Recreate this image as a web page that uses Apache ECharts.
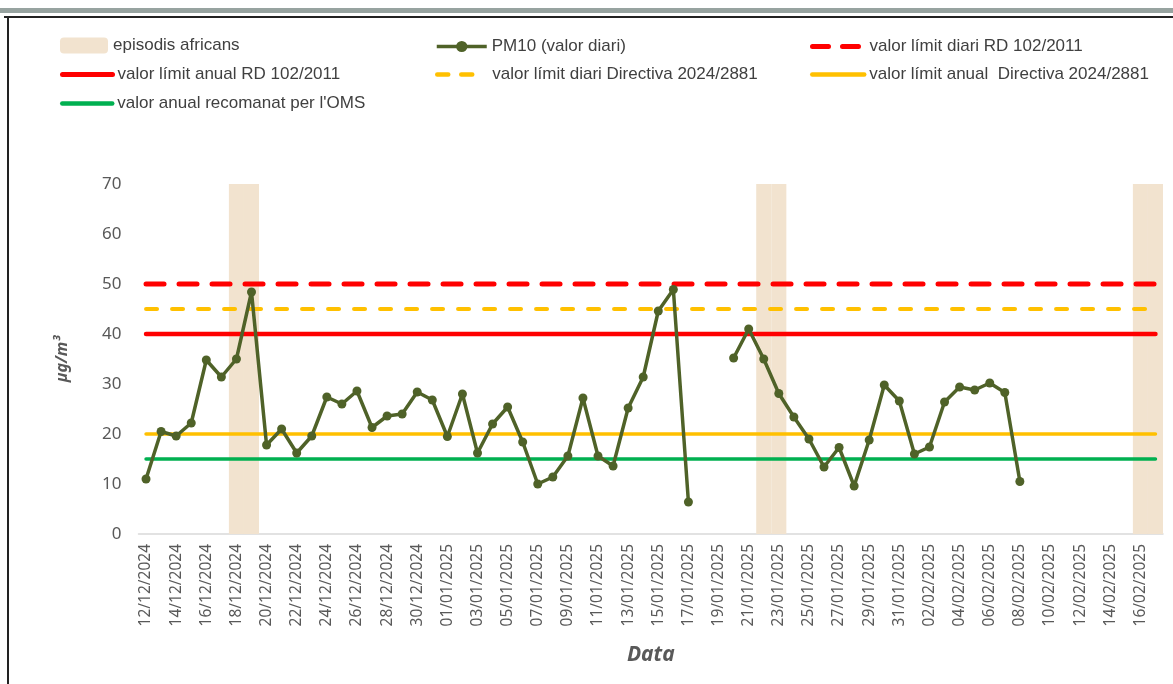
<!DOCTYPE html>
<html lang="ca">
<head>
    <meta charset="UTF-8">
    <title>PM10 - valor diari</title>
    <script src="https://cdn.jsdelivr.net/npm/echarts@6/dist/echarts.min.js"></script>
    <style>
        html, body { margin: 0; padding: 0; background: #fff; }
        #chart { width: 1173px; height: 684px; }
    </style>
</head>
<body>
    <div id="chart"></div>

    <script>
        // dies (eix de categories)
        const dates = [
            '12/12/2024', '13/12/2024', '14/12/2024', '15/12/2024', '16/12/2024', '17/12/2024', '18/12/2024',
            '19/12/2024', '20/12/2024', '21/12/2024', '22/12/2024', '23/12/2024', '24/12/2024', '25/12/2024',
            '26/12/2024', '27/12/2024', '28/12/2024', '29/12/2024', '30/12/2024', '31/12/2024',
            '01/01/2025', '02/01/2025', '03/01/2025', '04/01/2025', '05/01/2025', '06/01/2025', '07/01/2025',
            '08/01/2025', '09/01/2025', '10/01/2025', '11/01/2025', '12/01/2025', '13/01/2025', '14/01/2025',
            '15/01/2025', '16/01/2025', '17/01/2025', '18/01/2025', '19/01/2025', '20/01/2025', '21/01/2025',
            '22/01/2025', '23/01/2025', '24/01/2025', '25/01/2025', '26/01/2025', '27/01/2025', '28/01/2025',
            '29/01/2025', '30/01/2025', '31/01/2025',
            '01/02/2025', '02/02/2025', '03/02/2025', '04/02/2025', '05/02/2025', '06/02/2025', '07/02/2025',
            '08/02/2025', '09/02/2025', '10/02/2025', '11/02/2025', '12/02/2025', '13/02/2025', '14/02/2025',
            '15/02/2025', '16/02/2025', '17/02/2025'
        ];

        // PM10 valor diari (µg/m³), null = sense dada
        const pm10 = [
            11, 20.5, 19.6, 22.2, 34.8, 31.4, 35, 48.4, 17.8, 21, 16.2, 19.6, 27.4, 26,
            28.6, 21.3, 23.6, 24, 28.4, 26.8,
            19.5, 28, 16.2, 22, 25.4, 18.4, 10, 11.4, 15.6, 27.2, 15.6, 13.6, 25.2, 31.4,
            44.6, 48.9, 6.4, null, null, 35.2, 41, 35, 28.1, 23.4, 19, 13.4, 17.3, 9.6,
            18.8, 29.8, 26.6,
            16, 17.4, 26.4, 29.4, 28.8, 30.2, 28.3, 10.5, null, null, null, null, null, null,
            null, null, null
        ];

        // dies amb episodi africà
        const africanDays = ['18/12/2024', '19/12/2024', '22/01/2025', '23/01/2025', '16/02/2025', '17/02/2025'];

        // valors límit
        const limitDiariRD = 50;
        const limitAnualRD = 40;
        const limitDiariDir = 45;
        const limitAnualDir = 20;
        const valorOMS = 15;

        const yMax = 70;

        const chart = echarts.init(document.getElementById('chart'), null, { renderer: 'canvas' });

        const legendFont = "'Liberation Sans Narrow', 'Liberation Sans', sans-serif";
        const tickFont = "'Noto Sans', 'Open Sans', sans-serif";

        const RED = '#FF0000';
        const YELLOW = '#FFC000';
        const GREEN = '#00B050';
        const OLIVE = '#4F6228';

        // una llegenda per element, col·locada a mà com a l'original
        function legendAt(name, left, top, extra) {
            return Object.assign({
                data: [name],
                left: left,
                top: top,
                padding: 0,
                itemWidth: 50,
                itemHeight: 14,
                selectedMode: false,
                textStyle: { fontFamily: legendFont, fontSize: 17, color: '#404040' }
            }, extra || {});
        }

        // llegenda de només línia (sense marcador)
        function lineOnly(color, width, type) {
            return {
                itemStyle: { opacity: 0 },
                lineStyle: { color: color, width: width, type: type || 'solid', cap: 'round' }
            };
        }

        const flat = v => dates.map(() => v);

        const option = {
            animation: false,
            backgroundColor: '#fff',
            graphic: [
                { type: 'rect', shape: { x: 0, y: 8, width: 1173, height: 5 }, style: { fill: '#97A3A0' } },
                { type: 'rect', shape: { x: 4, y: 16, width: 1169, height: 2 }, style: { fill: '#222' } },
                { type: 'rect', shape: { x: 7, y: 16, width: 2, height: 668 }, style: { fill: '#222' } }
            ],
            legend: [
                legendAt('episodis africans', 60, 37, { itemWidth: 48, itemHeight: 16 }),
                legendAt('PM10 (valor diari)', 435, 38,
                    { lineStyle: { color: OLIVE, width: 3.5 }, itemStyle: { color: OLIVE } }),
                legendAt('valor límit diari RD 102/2011', 810, 38,
                    Object.assign({ itemWidth: 52 }, lineOnly(RED, 5, [16, 14]))),
                legendAt('valor límit anual RD 102/2011', 60, 66, lineOnly(RED, 5)),
                legendAt('valor límit diari Directiva 2024/2881', 435, 66,
                    Object.assign({
                        itemWidth: 36,
                        textStyle: {
                            fontFamily: legendFont, fontSize: 17, color: '#404040',
                            padding: [0, 0, 0, 14]
                        }
                    }, lineOnly(YELLOW, 4.5, [11, 13]))),
                legendAt('valor límit anual  Directiva 2024/2881', 810, 66,
                    Object.assign({ itemWidth: 52 }, lineOnly(YELLOW, 4.5))),
                legendAt('valor anual recomanat per l\'OMS', 60, 95, lineOnly(GREEN, 4.5))
            ],
            grid: {
                left: 138.5,
                right: 10,
                top: 184,
                bottom: 150
            },
            xAxis: {
                type: 'category',
                data: dates,
                boundaryGap: true,
                name: 'Data',
                nameLocation: 'middle',
                nameGap: 111,
                nameTextStyle: {
                    fontFamily: tickFont, fontSize: 21, fontWeight: 'bold',
                    fontStyle: 'italic', color: '#595959'
                },
                axisLine: { lineStyle: { color: '#D9D9D9', width: 1.5 } },
                axisTick: { show: false },
                axisLabel: {
                    interval: 1,
                    rotate: 90,
                    margin: 10,
                    fontFamily: tickFont,
                    fontSize: 15.5,
                    color: '#595959'
                }
            },
            yAxis: {
                type: 'value',
                min: 0,
                max: yMax,
                interval: 10,
                name: 'µg/m³',
                nameLocation: 'middle',
                nameRotate: 90,
                nameGap: 68,
                nameTextStyle: {
                    fontFamily: tickFont, fontSize: 16, fontWeight: 'bold',
                    fontStyle: 'italic', color: '#595959'
                },
                axisLine: { show: false },
                axisTick: { show: false },
                splitLine: { show: false },
                axisLabel: {
                    margin: 17,
                    fontFamily: tickFont,
                    fontSize: 17,
                    color: '#595959'
                }
            },
            series: [
                {
                    name: 'episodis africans',
                    type: 'bar',
                    data: dates.map(d => africanDays.includes(d) ? yMax : null),
                    barWidth: '100%',
                    barGap: '0%',
                    itemStyle: { color: '#F2E3CF' },
                    silent: true,
                    z: 1
                },
                {
                    name: 'valor límit diari RD 102/2011',
                    type: 'line',
                    data: flat(limitDiariRD),
                    symbol: 'none',
                    lineStyle: { color: RED, width: 5, type: [18, 15], cap: 'round' },
                    itemStyle: { color: RED },
                    z: 3
                },
                {
                    name: 'valor límit anual RD 102/2011',
                    type: 'line',
                    data: flat(limitAnualRD),
                    symbol: 'none',
                    lineStyle: { color: RED, width: 4.5, cap: 'round' },
                    itemStyle: { color: RED },
                    z: 3
                },
                {
                    name: 'valor límit diari Directiva 2024/2881',
                    type: 'line',
                    data: flat(limitDiariDir),
                    symbol: 'none',
                    lineStyle: { color: YELLOW, width: 4, type: [11, 15], cap: 'round' },
                    itemStyle: { color: YELLOW },
                    z: 3
                },
                {
                    name: 'valor límit anual  Directiva 2024/2881',
                    type: 'line',
                    data: flat(limitAnualDir),
                    symbol: 'none',
                    lineStyle: { color: YELLOW, width: 3.5, cap: 'round' },
                    itemStyle: { color: YELLOW },
                    z: 3
                },
                {
                    name: 'valor anual recomanat per l\'OMS',
                    type: 'line',
                    data: flat(valorOMS),
                    symbol: 'none',
                    lineStyle: { color: GREEN, width: 3.5, cap: 'round' },
                    itemStyle: { color: GREEN },
                    z: 3
                },
                {
                    name: 'PM10 (valor diari)',
                    type: 'line',
                    data: pm10,
                    connectNulls: false,
                    symbol: 'circle',
                    symbolSize: 9,
                    showAllSymbol: true,
                    lineStyle: { color: OLIVE, width: 3.5 },
                    itemStyle: { color: OLIVE },
                    z: 5
                }
            ]
        };

        chart.setOption(option);
    </script>
</body>
</html>
